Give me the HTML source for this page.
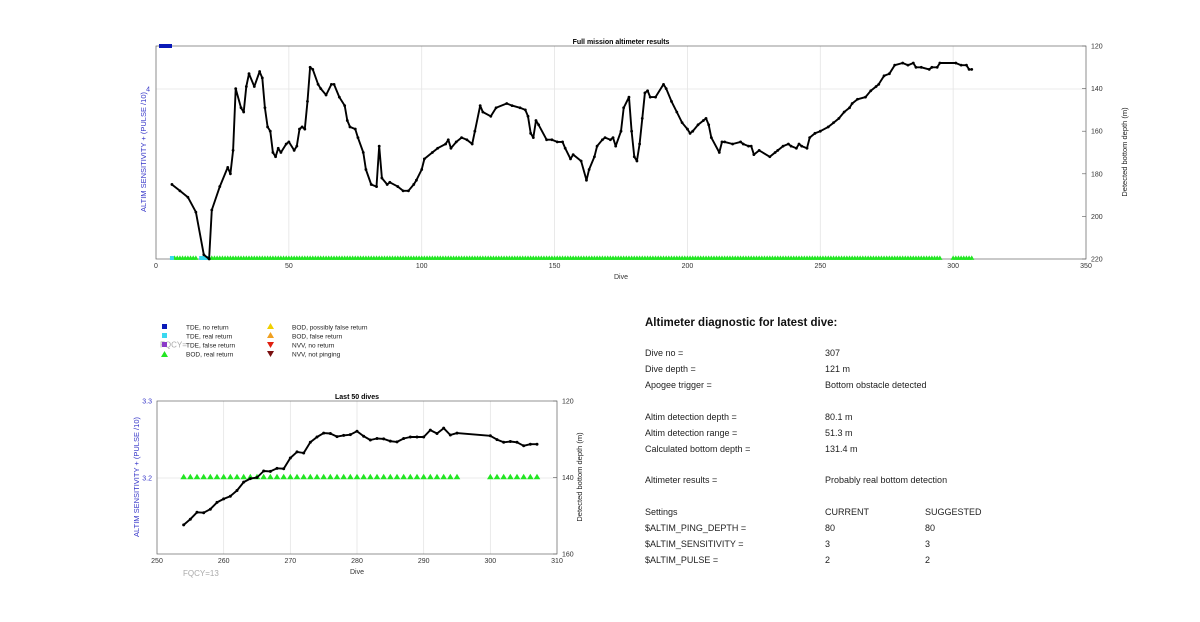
<!DOCTYPE html>
<html><head><meta charset="utf-8">
<style>
body{margin:0;background:#fff;}
svg{display:block;font-family:"Liberation Sans",Arial,sans-serif;}
.tk{font-size:7px;fill:#333;}
.bl{fill:#3535c8;}
.dt{font-size:9px;fill:#222;}
</style></head>
<body>
<svg id="fig" width="1200" height="622" viewBox="0 0 1200 622">
<g id="top"></g>
<g id="bot"></g>
<g font-size="6.5" fill="#222">
 <rect x="162" y="324" width="5" height="5" fill="#0a1ab8"/>
 <text x="186" y="329.5">TDE, no return</text>
 <rect x="162" y="333" width="5" height="5" fill="#3ad8f0"/>
 <text x="186" y="338.5">TDE, real return</text>
 <text x="160" y="347.5" font-size="8" fill="#aaa">FQCY=</text>
 <rect x="162" y="342" width="5" height="5" fill="#8a3ac8"/>
 <text x="186" y="347.5">TDE, false return</text>
 <polygon points="164.5,351 161,357 168,357" fill="#22e622"/>
 <text x="186" y="356.5">BOD, real return</text>
 <polygon points="270.5,323 267,329 274,329" fill="#f0d000"/>
 <text x="292" y="329.5">BOD, possibly false return</text>
 <polygon points="270.5,332 267,338 274,338" fill="#f0a020"/>
 <text x="292" y="338.5">BOD, false return</text>
 <polygon points="267,342 274,342 270.5,348" fill="#e02010"/>
 <text x="292" y="347.5">NVV, no return</text>
 <polygon points="267,351 274,351 270.5,357" fill="#7a1010"/>
 <text x="292" y="356.5">NVV, not pinging</text>
</g>
<g class="dt">
 <text x="645" y="326" font-size="11.5" font-weight="bold" fill="#111">Altimeter diagnostic for latest dive:</text>
 <text x="645" y="356">Dive no =</text><text x="825" y="356">307</text>
 <text x="645" y="372">Dive depth =</text><text x="825" y="372">121 m</text>
 <text x="645" y="388">Apogee trigger =</text><text x="825" y="388">Bottom obstacle detected</text>
 <text x="645" y="420">Altim detection depth =</text><text x="825" y="420">80.1 m</text>
 <text x="645" y="436">Altim detection range =</text><text x="825" y="436">51.3 m</text>
 <text x="645" y="452">Calculated bottom depth =</text><text x="825" y="452">131.4 m</text>
 <text x="645" y="483">Altimeter results =</text><text x="825" y="483">Probably real bottom detection</text>
 <text x="645" y="515">Settings</text><text x="825" y="515">CURRENT</text><text x="925" y="515">SUGGESTED</text>
 <text x="645" y="531">$ALTIM_PING_DEPTH =</text><text x="825" y="531">80</text><text x="925" y="531">80</text>
 <text x="645" y="547">$ALTIM_SENSITIVITY =</text><text x="825" y="547">3</text><text x="925" y="547">3</text>
 <text x="645" y="563">$ALTIM_PULSE =</text><text x="825" y="563">2</text><text x="925" y="563">2</text>
</g>
</svg>
<script>
const topDives=[6,9,12,15,18,20,21,24,27,28,29,30,32,33,34,35,37,39,40,41,42,43,44,45,46,47,49,50,52,53,54,55,56,57,58,59,61,62,64,66,67,69,71,72,73,75,76,78,79,81,83,84,85,87,88,91,93,95,97,98,100,101,104,106,109,110,111,113,115,117,119,120,122,123,126,128,132,134,137,139,140,141,142,143,144,147,149,151,153,154,156,157,160,162,163,165,166,168,169,171,172,173,175,176,178,179,180,181,182,183,184,185,186,188,191,192,194,196,198,200,201,202,204,206,207,208,209,212,213,214,217,220,221,223,224,225,227,231,233,234,236,238,239,241,242,243,245,246,248,250,253,255,257,259,261,262,264,267,269,271,272,274,276,278,281,283,285,286,288,291,292,294,295,301,303,305,306,307];
const topDepths=[185,188,191,198,218,220,197,186,177,180,169,140,149,151,139,133,139,132,135,149,158,160,170,172,168,170,166,165,169,167,159,158,159,146,130,131,138,140,143,138,138,144,148,155,158,159,163,170,178,185,186,167,182,185,184,186,188,188,185,183,178,173,170,168,166,164,168,165,163,164,166,160,148,151,153,149,147,148,149,150,153,161,163,155,157,164,164,165,165,168,173,171,174,183,178,172,167,164,163,164,163,167,160,149,144,160,172,174,166,154,142,141,144,144,138,140,146,151,156,159,161,160,157,155,154,157,163,170,165,165,166,165,166,167,167,171,169,172,170,169,167,166,167,168,166,167,168,163,161,160,158,156,154,151,149,147,145,144,141,139,138,134,133,129,128,129,128,130,130,131,130,130,128,128,129,129,131,131,132,132];
const topTdeReal=[6,17,18,19];
const lastDives=[254,255,256,257,258,259,260,261,262,263,264,265,266,267,268,269,270,271,272,273,274,275,276,277,278,279,280,281,282,283,284,285,286,287,288,289,290,291,292,293,294,295,300,301,302,303,304,305,306,307];
const lastDepths=[152.4,150.9,149.1,149.2,148.3,146.5,145.6,144.9,143.4,141.2,140.3,140,138.3,138.4,137.6,137.7,134.9,133.3,133.6,130.8,129.4,128.4,128.5,129.3,129,128.8,127.9,129.2,130.2,129.8,129.9,130.5,130.7,129.8,129.4,129.4,129.4,127.6,128.5,127.1,128.9,128.4,129.1,130.1,130.8,130.6,130.8,131.7,131.3,131.3];
const xTicksTop=[0,50,100,150,200,250,300,350];
const yTicksTopRight=[120,140,160,180,200,220];
const xTicksBot=[250,260,270,280,290,300,310];
const yTicksBotRight=[120,140,160];
const yTicksBotLeft=[3.3,3.2];

const NS='http://www.w3.org/2000/svg';
function mk(parent,tag,attrs,text){const e=document.createElementNS(NS,tag);for(const k in attrs)e.setAttribute(k,attrs[k]);if(text!==undefined)e.textContent=text;parent.appendChild(e);return e;}

function drawChart(g,o){
  const xs=v=>o.x0+(v-o.xmin)/(o.xmax-o.xmin)*(o.x1-o.x0);
  const ys=v=>o.y0+(v-o.dmin)/(o.dmax-o.dmin)*(o.y1-o.y0);
  o.xTicks.forEach(t=>{
    const l=mk(g,'line',{x1:xs(t),x2:xs(t),y1:o.y0,y2:o.y1,stroke:'#e4e4e4','stroke-width':0.8});
    
    
    const tx=mk(g,'text',{x:xs(t),y:o.y1+9,'text-anchor':'middle',class:'tk'},t);
    
    
  });
  o.leftGrid.forEach(yy=>{
    const l=mk(g,'line',{x1:o.x0,x2:o.x1,y1:yy,y2:yy,stroke:'#e4e4e4','stroke-width':0.8});
    
    
  });
  o.yTicks.forEach(t=>{
    const tx=mk(g,'text',{x:o.x1+5,y:ys(t)+2.5,class:'tk'},t);
    
    
    mk(g,'line',{x1:o.x1,x2:o.x1-4,y1:ys(t),y2:ys(t),stroke:'#555','stroke-width':0.6});
  });
  const box=mk(g,'rect',{x:o.x0,y:o.y0,width:o.x1-o.x0,height:o.y1-o.y0,fill:'none',stroke:'#666','stroke-width':0.7});
  
  
  o.tri.forEach(d=>{
    const cx=xs(d),cy=o.triY,s=o.triS;
    const p=mk(g,'polygon',{points:`${cx},${cy-s} ${cx-s},${cy+s*0.7} ${cx+s},${cy+s*0.7}`,fill:'#22e622'});
    
    
  });
  (o.cyan||[]).forEach(d=>{
    const r=mk(g,'rect',{x:xs(d)-2,y:o.triY-2,width:4,height:4,fill:'#3ad8f0'});
    
    
  });
  const pts=o.dives.map((d,i)=>xs(d).toFixed(1)+','+ys(o.depths[i]).toFixed(1)).join(' ');
  const pl=mk(g,'polyline',{points:pts,fill:'none',stroke:'#000','stroke-width':o.lw,'stroke-linejoin':'round'});
  
  
  o.dives.forEach((d,i)=>{
    const c=mk(g,'circle',{cx:xs(d),cy:ys(o.depths[i]),r:o.mr,fill:'#000'});
    
    
  });
}

const topG=document.getElementById('top');
const triTop=[];for(let d=7;d<=295;d++){if(topTdeReal.indexOf(d)<0&&d!==16)triTop.push(d);}for(let d=300;d<=307;d++)triTop.push(d);
drawChart(topG,{x0:156,x1:1086,y0:46,y1:259,xmin:0,xmax:350,dmin:120,dmax:220,xTicks:xTicksTop,yTicks:yTicksTopRight,leftGrid:[89],
  dives:topDives,depths:topDepths,tri:triTop,triY:258,triS:2.6,cyan:topTdeReal,lw:1.9,mr:1.4});
mk(topG,'rect',{x:159,y:44,width:13,height:4,fill:'#0a1ab8',});
mk(topG,'text',{x:150,y:91.5,'text-anchor':'end',class:'tk bl',},'4');
mk(topG,'text',{x:621,y:44,'text-anchor':'middle','font-size':'7','font-weight':'bold',},'Full mission altimeter results');
mk(topG,'text',{x:621,y:279,'text-anchor':'middle',class:'tk',},'Dive');
mk(topG,'text',{x:0,y:0,transform:'translate(146,152) rotate(-90)','text-anchor':'middle','font-size':'7.5',class:'bl',},'ALTIM SENSITIVITY + (PULSE /10)');
mk(topG,'text',{x:0,y:0,transform:'translate(1127,152) rotate(-90)','text-anchor':'middle','font-size':'7.5',fill:'#222',},'Detected bottom depth (m)');

const botG=document.getElementById('bot');
const triBot=[];for(let d=254;d<=295;d++)triBot.push(d);for(let d=300;d<=307;d++)triBot.push(d);
drawChart(botG,{x0:157,x1:557,y0:401,y1:554,xmin:250,xmax:310,dmin:120,dmax:160,xTicks:xTicksBot,yTicks:yTicksBotRight,leftGrid:[478],
  dives:lastDives,depths:lastDepths,tri:triBot,triY:477,triS:3.3,lw:1.9,mr:1.5});
yTicksBotLeft.forEach((t,i)=>{
  const tx=mk(botG,'text',{x:152,y:(i===0?401:478)+2.5,'text-anchor':'end',class:'tk bl'},t.toFixed(1));
  
  
});
mk(botG,'text',{x:357,y:399,'text-anchor':'middle','font-size':'7','font-weight':'bold',},'Last 50 dives');
mk(botG,'text',{x:357,y:574,'text-anchor':'middle',class:'tk',},'Dive');
mk(botG,'text',{x:183,y:576,'font-size':'8',fill:'#aaa',},'FQCY=13');
mk(botG,'text',{x:0,y:0,transform:'translate(139,477) rotate(-90)','text-anchor':'middle','font-size':'7.5',class:'bl',},'ALTIM SENSITIVITY + (PULSE /10)');
mk(botG,'text',{x:0,y:0,transform:'translate(582,477) rotate(-90)','text-anchor':'middle','font-size':'7.5',fill:'#222',},'Detected bottom depth (m)');
</script>
</body></html>
